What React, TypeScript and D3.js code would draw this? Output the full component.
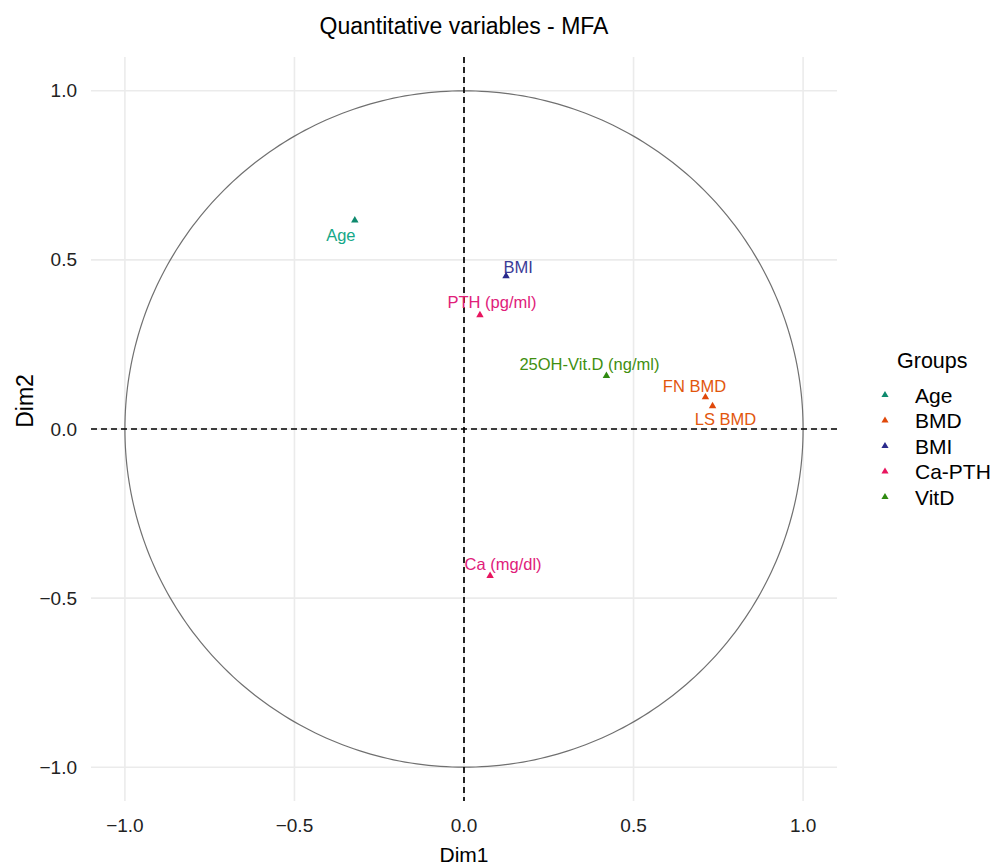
import React from "react";
import * as d3 from "d3";

const variables = ["Age", "BMI", "PTH (pg/ml)", "25OH-Vit.D (ng/ml)", "FN BMD", "LS BMD", "Ca (mg/dl)"];
const dim1 = [-0.322, 0.124, 0.047, 0.42, 0.712, 0.733, 0.077];
const dim2 = [0.617, 0.452, 0.337, 0.157, 0.094, 0.068, -0.434];
const varGroups = ["Age", "BMI", "Ca-PTH", "VitD", "BMD", "BMD", "Ca-PTH"];
const groups = ["Age", "BMD", "BMI", "Ca-PTH", "VitD"];
const ticks = [-1.0, -0.5, 0.0, 0.5, 1.0];

// label nudges (pixels) mimicking the repel layout
const labelDx = [-14, 12, 12, -17, -11, 13, 13];
const labelDy = [15, -9, -13, -12, -11, 13, -12];

const pointColors: Record<string, string> = {
  Age: "#0e8a6e",
  BMD: "#e0480a",
  BMI: "#2a2a8c",
  "Ca-PTH": "#e8155f",
  VitD: "#2f8a10",
};
const labelColors: Record<string, string> = {
  Age: "#15a888",
  BMD: "#e2560c",
  BMI: "#3a3a96",
  "Ca-PTH": "#e0207a",
  VitD: "#3f8f10",
};

const W = 998;
const H = 867;
const left = 91, right = 837, top = 57, bottom = 801;

export default function App() {
  const x = d3.scaleLinear().domain([-1.1, 1.1]).range([left, right]);
  const y = d3.scaleLinear().domain([-1.1, 1.1]).range([bottom, top]);
  const tri = d3.symbol().type(d3.symbolTriangle).size(24)();
  const circle = d3.range(0, 361, 1).map((a) => [Math.cos((a * Math.PI) / 180), Math.sin((a * Math.PI) / 180)] as [number, number]);
  const circlePath = d3.line<[number, number]>().x((d) => x(d[0])).y((d) => y(d[1]))(circle) || "";
  const font = "'Liberation Sans', Arial, sans-serif";
  const fmt = (t: number) => d3.format(".1f")(t).replace("-", "\u2212");

  return (
    <svg width={W} height={H} style={{ position: "absolute", left: 0, top: 0, background: "#fff" }} fontFamily={font}>
      <rect x={0} y={0} width={W} height={H} fill="#fff" />
      {ticks.map((t) => (
        <g key={"g" + t}>
          <line x1={left} x2={right} y1={y(t)} y2={y(t)} stroke="#ebebeb" strokeWidth={1.6} />
          <line x1={x(t)} x2={x(t)} y1={top} y2={bottom} stroke="#ebebeb" strokeWidth={1.6} />
        </g>
      ))}
      <path d={circlePath} fill="none" stroke="#707070" strokeWidth={1.2} />
      <line x1={left} x2={right} y1={y(0)} y2={y(0)} stroke="#000" strokeWidth={1.7} strokeDasharray="6,4" />
      <line x1={x(0)} x2={x(0)} y1={top} y2={bottom} stroke="#000" strokeWidth={1.7} strokeDasharray="6,4" />
      {variables.map((v, i) => (
        <g key={v}>
          <path d={tri} transform={`translate(${x(dim1[i])},${y(dim2[i])})`} fill={pointColors[varGroups[i]]} />
          <text
            x={x(dim1[i]) + labelDx[i]}
            y={y(dim2[i]) + labelDy[i]}
            textAnchor="middle"
            dominantBaseline="central"
            fontSize={16.5}
            fill={labelColors[varGroups[i]]}
          >
            {v}
          </text>
        </g>
      ))}
      {ticks.map((t) => (
        <g key={"t" + t}>
          <text x={x(t)} y={825} textAnchor="middle" dominantBaseline="central" fontSize={19} fill="#222">
            {fmt(t)}
          </text>
          <text x={77} y={y(t)} textAnchor="end" dominantBaseline="central" fontSize={19} fill="#222">
            {fmt(t)}
          </text>
        </g>
      ))}
      <text x={x(0)} y={854} textAnchor="middle" dominantBaseline="central" fontSize={21} fill="#000">Dim1</text>
      <text transform={`translate(25,401) rotate(-90)`} textAnchor="middle" dominantBaseline="central" fontSize={23} fill="#000">Dim2</text>
      <text x={x(0)} y={26} textAnchor="middle" dominantBaseline="central" fontSize={23} fill="#000">Quantitative variables - MFA</text>
      <text x={897} y={361} dominantBaseline="central" fontSize={21.5} fill="#000">Groups</text>
      {groups.map((g, i) => (
        <g key={g}>
          <path d={d3.symbol().type(d3.symbolTriangle).size(22)() || ""} transform={`translate(885,${395 + i * 25.5})`} fill={pointColors[g]} />
          <text x={915} y={395 + i * 25.5} dominantBaseline="central" fontSize={21} fill="#000">{g}</text>
        </g>
      ))}
    </svg>
  );
}
